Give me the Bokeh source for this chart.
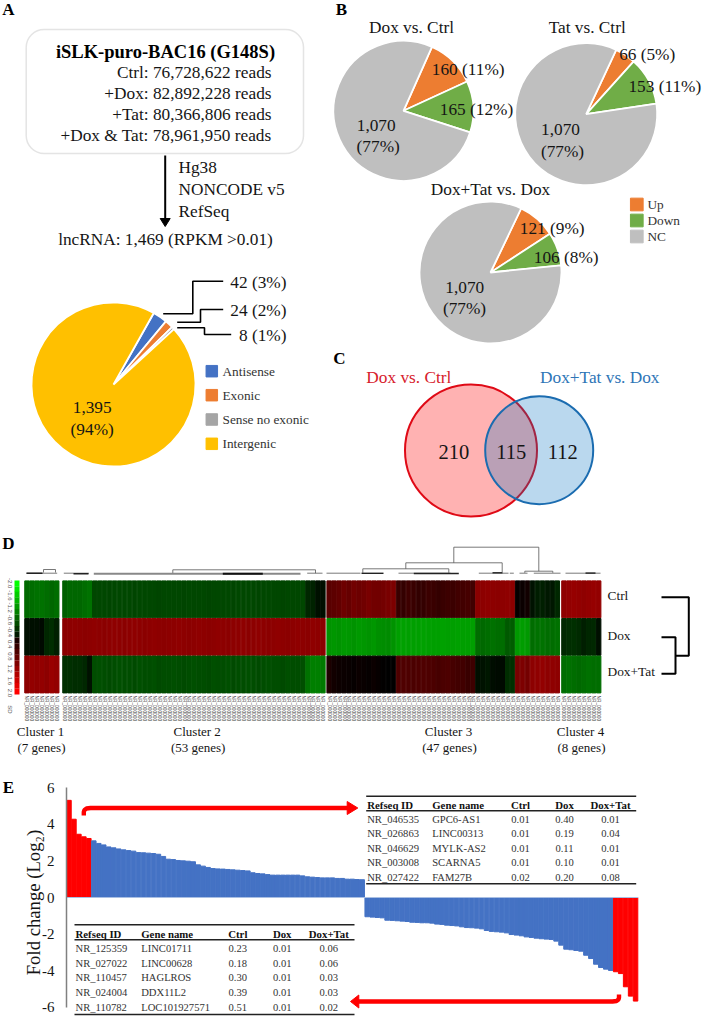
import numpy as np
from bokeh.plotting import figure
from bokeh.embed import file_html
from bokeh.resources import INLINE
from bokeh.core.properties import value
from bokeh.models import (Range1d, LinearAxis, FixedTicker, BoxAnnotation,
                          LinearColorMapper, ColumnDataSource)

SERIF = "Liberation Serif"

# ---------- Panel A data
reads_lines = ["Ctrl: 76,728,622 reads", "+Dox: 82,892,228 reads", "+Tat: 80,366,806 reads", "+Dox & Tat: 78,961,950 reads"]
pipeline_lines = ["Hg38", "NONCODE v5", "RefSeq"]
lnc_categories = ["Antisense", "Exonic", "Sense no exonic", "Intergenic"]
lnc_values = [42, 24, 8, 1395]
lnc_colors = ["#4472C4", "#ED7D31", "#A5A5A5", "#FFC000"]

# ---------- Panel B data
de_total = 1395
de_up = [160, 66, 121]
de_down = [165, 153, 106]
de_titles = ["Dox vs. Ctrl", "Tat vs. Ctrl", "Dox+Tat vs. Dox"]
de_up_labels = ["160 (11%)", "66 (5%)", "121 (9%)"]
de_down_labels = ["165 (12%)", "153 (11%)", "106 (8%)"]
de_nc_label = ["1,070", "(77%)"]
de_categories = ["Up", "Down", "NC"]
de_colors = ["#ED7D31", "#70AD47", "#BFBFBF"]

# ---------- Panel C data
venn_counts = [210, 115, 112]

# ---------- Panel D data (per column, per row)
c1_ctrl = [-.82,-.85,-.88,-.90,-.85,-.80,-.85]
c1_dox  = [-.14,-.12,-.12,-.08,-.30,-.35,-.25]
c1_dt   = [1.10,1.15,1.12,1.15,1.10,1.20,1.15]
c2_ctrl = [-.75,-.80,-.80,-.80,-.85,-.90,
           -.55,-.56,-.55,-.54,-.55,-.56,-.55,-.55,-.54,-.56,-.55,-.55,-.56,-.54,-.55,-.55,-.56,-.55,-.54,-.55,-.56,-.55,
           -.55,-.54,-.56,-.55,-.55,-.56,-.54,-.55,-.55,-.56,-.55,-.54,-.55,-.56,-.55,-.55,-.54,-.56,-.55,-.55,-.56,
           -.30,-.28,-.14,-.12]
c2_dox  = [1.08,1.10,1.12,1.10,1.08,1.10,1.12,1.10,1.09,1.10,1.11,1.10,1.09,1.10,1.12,1.10,1.08,1.10,1.11,1.10,1.09,1.10,1.10,1.12,1.10,1.09,
           1.10,1.11,1.10,1.08,1.10,1.12,1.10,1.09,1.10,1.10,1.11,1.09,1.10,1.12,1.10,1.08,1.10,1.11,1.10,1.09,1.10,1.12,1.10,1.09,1.12,1.10,1.08]
c2_dt   = [-.38,-.38,-.35,-.35,-.30,-.15,
           -.60,-.61,-.60,-.59,-.60,-.61,-.60,-.60,-.59,-.61,-.60,-.60,-.61,-.59,-.60,-.60,-.61,-.60,-.59,-.60,-.61,-.60,
           -.60,-.59,-.61,-.60,-.60,-.61,-.59,-.60,-.60,-.61,-.60,-.59,-.60,-.61,-.60,-.60,-.59,-.61,-.60,-.60,-.61,
           -.90,-1.0,-1.0,-.95]
c3_ctrl = [.70,.72,.78,.85,.80,.90,.85,.88,.95,.90,.88,.92,.95,.98,
           .45,.42,.48,.45,.40,.42,.46,.44,.42,.45,.48,.46,.50,.52,.55,.50,
           1.08,1.10,1.12,1.10,1.08,1.10,1.12,1.10,
           .05,.08,.15,-.15,-.22,-.25,-.20,-.18,-.30]
c3_dox  = [-1.15,-1.18,-1.15,-1.20,-1.18,-1.15,-1.20,-1.18,-1.15,-1.18,-1.12,-1.10,-1.08,-1.15,
           -1.25,-1.26,-1.25,-1.24,-1.25,-1.26,-1.25,-1.25,-1.24,-1.26,-1.25,-1.25,-1.26,-1.25,-1.24,-1.25,
           -.85,-.82,-.85,-.88,-.85,-.85,-.70,-.72,
           -1.20,-1.22,-1.20,-.85,-.88,-.90,-.85,-.85,-.88]
c3_dt   = [.22,.15,.10,.08,.07,.06,.08,.07,.05,.08,.06,.02,.0,.0,
           .60,.62,.60,.58,.60,.62,.60,.58,.55,.58,.60,.55,.52,.50,.45,.48,
           -.12,-.15,-.18,-.10,-.08,-.08,-.35,-.38,
           .95,.98,.92,1.10,1.12,1.15,1.10,1.12,1.10]
c4_ctrl = [1.12,1.15,1.18,1.15,1.12,1.15,1.18,1.15]
c4_dox  = [-.32,-.35,-.36,-.34,-.25,-.30,-.32,-.12]
c4_dt   = [-.85,-.88,-.85,-.82,-.85,-.88,-.85,-.85]
heat_rows = ["Ctrl", "Dox", "Dox+Tat"]
cluster_names = ["Cluster 1", "Cluster 2", "Cluster 3", "Cluster 4"]
cluster_sizes = ["(7 genes)", "(53 genes)", "(47 genes)", "(8 genes)"]
cluster_gap_units = [0.0, 0.66, 0.26, 0.34]
color_key_labels = ["-2.0","-1.6","-1.2","-0.8","-0.4","0.4","0.8","1.2","1.6","2.0"]
color_key_values = [-2.0,-1.8,-1.6,-1.4,-1.2,-1.0,-.8,-.6,-.4,-.2,.2,.4,.6,.8,1.0,1.2,1.4,1.6,1.8,2.0]
gene_tick_label = "NR_000000"

# ---------- Panel E data
fc_up = [5.30,4.27,3.45,3.31,3.22,
         3.09,2.95,2.87,2.76,2.71,2.65,2.60,2.56,2.53,2.45,2.44,2.42,2.40,2.36,2.24,2.09,2.07,2.02,2.00,1.98,1.95,
         1.78,1.71,1.64,1.58,1.56,1.55,1.53,1.51,1.49,1.47,1.45,1.35,1.31,1.29,1.25,1.22,1.22,1.22,1.22,1.22,1.22,
         1.18,1.13,1.11,1.09,1.07,1.07,1.07,1.04,1.04,1.00,1.00,0.98,0.97]
fc_down = [-1.05,-1.07,-1.09,-1.11,-1.24,-1.25,-1.27,-1.29,-1.31,-1.35,-1.36,-1.38,-1.38,-1.40,-1.45,-1.47,-1.51,
           -1.53,-1.55,-1.60,-1.64,-1.65,-1.67,-1.71,-1.80,-1.85,-1.87,-1.89,-1.93,-2.02,-2.05,-2.09,-2.15,-2.18,
           -2.22,-2.25,-2.27,-2.29,-2.38,-2.60,-2.82,-2.85,-2.89,-2.93,-3.15,-3.33,-3.64,-3.82,-3.91,-3.98,
           -4.05,-4.15,-4.87,-5.38,-5.65]
fc_ticks = [-6,-4,-2,0,2,4,6]
fc_title = "Fold change (Log\u2082)"
n_red = 5
table_head = ["Refseq ID", "Gene name", "Ctrl", "Dox", "Dox+Tat"]
table_low = [["NR_125359","LINC01711","0.23","0.01","0.06"],
             ["NR_027022","LINC00628","0.18","0.01","0.06"],
             ["NR_110457","HAGLROS","0.30","0.01","0.03"],
             ["NR_024004","DDX11L2","0.39","0.01","0.03"],
             ["NR_110782","LOC101927571","0.51","0.01","0.02"]]
table_up = [["NR_046535","GPC6-AS1","0.01","0.40","0.01"],
            ["NR_026863","LINC00313","0.01","0.19","0.04"],
            ["NR_046629","MYLK-AS2","0.01","0.11","0.01"],
            ["NR_003008","SCARNA5","0.01","0.10","0.01"],
            ["NR_027422","FAM27B","0.02","0.20","0.08"]]

# ---------- Canvas (one pixel per unit)
W, H = 702, 1016
p = figure(width=W, height=H, x_range=Range1d(0, W), y_range=Range1d(H, 0),
           x_axis_type=None, y_axis_type=None, output_backend="svg",
           toolbar_location=None, min_border=0, outline_line_color=None,
           background_fill_color="white")

# own scales: map a value range onto the full frame
def add_x(name, origin, per_unit):
    p.extra_x_ranges[name] = Range1d(-origin / per_unit, (W - origin) / per_unit)
def add_y(name, origin, per_unit):   # y px = origin - per_unit * v
    p.extra_y_ranges[name] = Range1d((origin - H) / per_unit, origin / per_unit)

add_x("rank", 66.0, 4.97)
add_y("fc", 897.0, 18.33)
add_x("col", 24.0, 4.96)
add_y("row", 580.0, -37.6)

def T(x, y, s, size=17.3, align="center", bold=False, color="#151515", angle=0.0, font=SERIF):
    p.text(x=[x], y=[y], text=[s], text_font=value(font), text_font_size=f"{size}px",
           text_align=align, text_baseline="middle", text_color=color, angle=angle,
           text_font_style="bold" if bold else "normal")

for s, x, y in [("A", 8, 9), ("B", 341, 9), ("C", 339, 358), ("D", 8, 543), ("E", 8, 787)]:
    T(x, y, s, size=17, bold=True, color="#000000")

# ---------- helper pie
def pie(cx, cy, r, vals, colors, start_deg, total=None):
    vals = np.array(vals, dtype=float)
    total = total or vals.sum()
    deg = vals / total * 360.0
    ends = start_deg - np.cumsum(deg)
    starts = np.concatenate([[start_deg], ends[:-1]])
    p.wedge(x=[cx] * len(vals), y=[cy] * len(vals), radius=r,
            start_angle=np.deg2rad(ends), end_angle=np.deg2rad(starts),
            fill_color=colors, line_color="white", line_width=1.8)

# ---------- Panel A
p.add_layout(BoxAnnotation(left=25.7, right=303, top=29, bottom=153, border_radius=18,
                           fill_color=None, fill_alpha=0, line_color="#A6A6A6", line_width=1.5))
T(165, 51, "iSLK-puro-BAC16 (G148S)", size=18.5, bold=True, color="#000000")
for line, y in zip(reads_lines, [72, 93, 114, 135]):
    T(271, y, line, align="right")
p.line([164.7, 164.7], [155, 219], line_color="black", line_width=2)
p.patch([159.7, 169.7, 164.7], [218, 218, 226], color="black")
for line, y in zip(pipeline_lines, [167, 189, 211]):
    T(178, y, line, align="left")
T(165, 239, "lncRNA: 1,469 (RPKM >0.01)")

pie(113, 384, 82, lnc_values, lnc_colors, 60.6)
p.multi_line([[162.7, 192.3, 192.3, 222.7], [176.7, 200, 200, 222.7], [176.7, 204, 204, 230.7]],
             [[313.3, 313.3, 280.7, 280.7], [321.7, 321.7, 309, 309], [327.3, 327.3, 334, 334]],
             line_color="black", line_width=1.6)
for i, y in enumerate([282, 310, 335]):
    T(286, y, f"{lnc_values[i]} ({[3, 2, 1][i]}%)", align="right")
T(91.7, 406.7, f"{lnc_values[3]:,}")
T(91.7, 429, "(94%)")
for name, col, y in zip(lnc_categories, lnc_colors, [370.7, 394.7, 419, 443.3]):
    p.rect([211.3], [y], width=11.5, height=11.5, color=col)
    T(222, y, name, size=13.3, align="left", color="#333333")

# ---------- Panel B
pie_pos = [(403, 110.3, 70, 66), (585.7, 113.7, 71, 65), (490, 272, 71, 64.4)]
title_pos = [(411, 27), (586.7, 27), (490, 189)]
up_pos = [(467.7, 69), (646.7, 54.3), (551.7, 227.7)]
down_pos = [(476, 109.3), (664.3, 85.7), (565.7, 256.7)]
nc_pos = [((375.7, 125), (377.7, 145.7)), ((560, 129.3), (562, 150.7)), ((464.3, 286.7), (464, 308.3))]
for i in range(3):
    cx, cy, r, st = pie_pos[i]
    pie(cx, cy, r, [de_up[i], de_down[i], de_total - de_up[i] - de_down[i]], de_colors, st)
for i in range(3):
    T(*title_pos[i], de_titles[i])
    T(*up_pos[i], de_up_labels[i])
    T(*down_pos[i], de_down_labels[i])
    T(*nc_pos[i][0], de_nc_label[0])
    T(*nc_pos[i][1], de_nc_label[1])
for name, col, y in zip(de_categories, de_colors, [204, 220, 236]):
    p.rect([636.3], [y], width=12.7, height=12.7, color=col)
    T(647, y, name, size=13.3, align="left", color="#333333")

# ---------- Panel C
p.circle([470.5], [450], radius=66, fill_color="#FF0000", fill_alpha=0.3, line_color="#DF0A16", line_width=2)
p.circle([538.7], [449.7], radius=54, fill_color="#0070C0", fill_alpha=0.27, line_color="#1B6CB0", line_width=2)
T(408.3, 377.3, "Dox vs. Ctrl", color="#D7202B")
T(599.3, 377.3, "Dox+Tat vs. Dox", color="#2E75B6")
for n, x in zip(venn_counts, [453.3, 510.7, 562.3]):
    T(x, 451.7, str(n), size=20.5)

# ---------- Panel D
palette = []
for k in range(256):
    t = k / 255 * 2 - 1
    palette.append("#%02x%02x%02x" % (int(255 * max(t, 0)), int(255 * max(-t, 0)), 0))
mapper = LinearColorMapper(palette=palette, low=-2, high=2)

clusters = [[c1_ctrl, c1_dox, c1_dt], [c2_ctrl, c2_dox, c2_dt], [c3_ctrl, c3_dox, c3_dt], [c4_ctrl, c4_dox, c4_dt]]
xs, ys, vs = [], [], []
col_centres = []
offset = 0.0
for cl, gap in zip(clusters, cluster_gap_units):
    offset += gap
    for j in range(len(cl[0])):
        col_centres.append(offset + j + 0.5)
        for r in range(3):
            xs.append(offset + j + 0.5); ys.append(r + 0.5); vs.append(cl[r][j])
    offset += len(cl[0])
p.rect(x="x", y="y", width=0.9, height=0.98, source=ColumnDataSource(dict(x=xs, y=ys, v=vs)),
       fill_color={"field": "v", "transform": mapper},
       line_color={"field": "v", "transform": mapper}, line_width=1,
       x_range_name="col", y_range_name="row")
p.text(x=col_centres, y=[695] * len(col_centres), text=[gene_tick_label] * len(col_centres),
       x_range_name="col", angle=-np.pi / 2, text_font=value("Liberation Sans"), text_font_size="4.8px",
       text_align="left", text_baseline="middle", text_color="#333333")

# colour key
key_y = 580 + 5.7 * (np.arange(len(color_key_values)) + 0.5)
p.rect(x=[16.5] * len(color_key_values), y=key_y, width=5, height=5.8,
       fill_color=[palette[int((v + 2) / 4 * 255)] for v in color_key_values], line_color=None)
for k, s in enumerate(color_key_labels):
    T(9, 582.7 + 12.2 * k, s, size=6, angle=-np.pi / 2, font="Liberation Sans", color="#555555")
T(9, 709, "SD", size=6, angle=-np.pi / 2, font="Liberation Sans", color="#555555")

# dendrogram
thin = [[(453.3, 562.3), (453.3, 546.7), (538.3, 546.7), (538.3, 570.7)],
        [(405.3, 568.3), (405.3, 562.3), (501.7, 562.3), (501.7, 571.7)],
        [(362.3, 572.3), (362.3, 568.3), (448.3, 568.3), (448.3, 572.3)],
        [(524.3, 572.3), (524.3, 570.7), (552.3, 570.7), (552.3, 572.3)],
        [(172.3, 572.7), (172.3, 569.3), (315, 569.3), (315, 572.7)],
        [(43, 572), (43, 569), (55, 569), (55, 572)],
        [(26, 572.7), (56.7, 572.7)], [(63.3, 572.7), (88.3, 572.7)], [(306.7, 572.7), (322, 572.7)],
        [(326, 572.7), (360, 572.7)], [(398, 572.7), (450, 572.7)], [(478.3, 572.7), (508, 572.7)],
        [(509.3, 572.7), (513.3, 572.7)], [(519, 572.7), (527, 572.7)], [(533.3, 572.7), (560, 572.7)],
        [(565, 572.7), (600, 572.7)]]
thick = [[(26, 572.8), (42, 572.8)], [(73, 573.2), (88, 573.2)], [(361, 572.8), (383, 572.8)],
         [(413.3, 573), (458.3, 573)], [(492, 572.3), (502, 572.3)], [(585, 572.6), (595, 572.6)]]
p.multi_line([[q[0] for q in seg] for seg in thin], [[q[1] for q in seg] for seg in thin],
             line_color="#555555", line_width=0.8)
p.line([93.3, 300], [573.2, 573.2], line_color="#888888", line_width=2)
p.line([222.3, 262.3], [573.2, 573.2], line_color="#111111", line_width=2)
p.multi_line([[q[0] for q in seg] for seg in thick], [[q[1] for q in seg] for seg in thick],
             line_color="#222222", line_width=1.4)

for s, y in zip(heat_rows, [595, 635, 671]):
    T(607, y, s, size=13.4, align="left")
p.multi_line([[661, 688.3, 688.3, 675], [661, 675, 675, 661]],
             [[596.7, 596.7, 655.3, 655.3], [636.7, 636.7, 673.3, 673.3]],
             line_color="black", line_width=2)
for s, g, x in zip(cluster_names, cluster_sizes, [40, 196.7, 448, 580]):
    T(x, 731, s, size=13)
    T(x + 1, 747, g, size=13)

# ---------- Panel E
up_x = np.arange(len(fc_up)) + 0.5
dn_x = len(fc_up) + np.arange(len(fc_down)) + 0.5
bar_x = np.concatenate([up_x, dn_x])
bar_v = fc_up + fc_down
bar_c = ["#FF0000" if (i < n_red or i >= len(bar_v) - n_red) else "#4472C4" for i in range(len(bar_v))]
p.vbar(x=bar_x, top=bar_v, bottom=0, width=0.9, fill_color=bar_c, line_color=bar_c, line_width=1,
       x_range_name="rank", y_range_name="fc")
p.line([0, len(fc_up) + len(fc_down)], [0, 0], line_color="#A9BFE3", line_width=1,
       x_range_name="rank", y_range_name="fc")

axis = LinearAxis(y_range_name="fc", fixed_location=66, ticker=FixedTicker(ticks=fc_ticks),
                  bounds=(-6, 6), major_tick_line_color=None, minor_tick_line_color=None,
                  major_tick_out=0, major_tick_in=0,
                  axis_line_color="#808080", axis_line_width=1.5,
                  major_label_text_font=SERIF, major_label_text_font_size="15px",
                  major_label_text_color="#151515", major_label_standoff=12,
                  major_label_overrides={t: str(t) for t in fc_ticks})
p.add_layout(axis, "left")
T(32.5, 902, fc_title, size=18.7, angle=np.pi / 2)

# red arrows
p.line([83.3, 83.3, 84, 86, 90, 348], [815, 811.5, 809.5, 808, 807.5, 807.5], line_color="#FF0000", line_width=4.4)
p.patch([346.7, 346.7, 357.3], [801, 814, 807.5], color="#FF0000")
p.line([618.5, 618.5, 618, 616, 612, 357], [994, 997, 999, 1000.5, 1001, 1001], line_color="#FF0000", line_width=4.4)
p.patch([358.3, 358.3, 350], [994.5, 1007.5, 1001], color="#FF0000")

# tables
def table(rows, x0, x1, top, mid, bottom, head_y, row_ys, left_cols, centre_cols):
    p.multi_line([[x0, x1], [x0, x1], [x0, x1]], [[top, top], [mid, mid], [bottom, bottom]],
                 line_color="#222222", line_width=1.4)
    for j, h in enumerate(table_head):
        if j < 2:
            T(left_cols[j], head_y, h, size=10.8, align="left", bold=True, color="#111111")
        else:
            T(centre_cols[j - 2], head_y, h, size=10.8, bold=True, color="#111111")
    for row, y in zip(rows, row_ys):
        for j, s in enumerate(row):
            if j < 2:
                T(left_cols[j], y, s, size=10.6, align="left", color="#333333")
            else:
                T(centre_cols[j - 2], y, s, size=10.6, color="#333333")

table(table_up, 365.7, 635.7, 795.7, 810.3, 883.3, 804, [818.7, 833.3, 847.7, 862.3, 876.7],
      [366.7, 431.7], [520, 564, 610])
table(table_low, 74, 354, 924.3, 939.3, 1014, 933, [947.7, 962.7, 977.3, 992, 1007],
      [75, 140.7], [237.3, 281.7, 328.3])

open("out.html", "w").write(file_html(p, INLINE))
